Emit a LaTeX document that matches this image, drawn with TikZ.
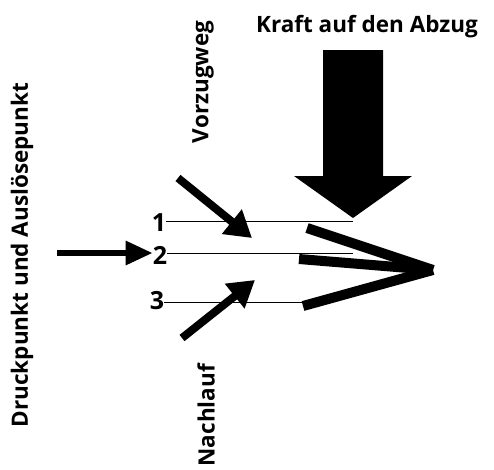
\documentclass[tikz,border=0pt]{standalone}
\usepackage{fontspec}
\setmainfont{Open Sans}
\usetikzlibrary{arrows.meta}
\tikzset{
  lbl/.style={font=\bfseries\fontsize{22.5}{26}\selectfont, inner sep=0pt},
  num/.style={font=\bfseries\fontsize{25}{28}\selectfont, inner sep=0pt},
  thin/.style={line width=0.9pt},
  chev/.style={line width=10pt, line cap=butt},
  fatarrow/.style={line width=8pt, -{Triangle[length=26pt,width=30pt]}},
  leftarrow/.style={line width=6pt, -{Triangle[length=27pt,width=23pt]}},
}
\begin{document}
\begin{tikzpicture}[x=1pt,y=-1pt]
\useasboundingbox (0,0) rectangle (494,469);
% titles
\node[lbl] (kraft) at (367,27) {Kraft auf den Abzug};
\node[lbl, rotate=90] (vorzug) at (203,82) {Vorzugweg};
\node[lbl, rotate=90] (druck) at (22,255) {Druckpunkt und Auslösepunkt};
\node[lbl, rotate=90, anchor=east] (nach) at (206,364) {Nachlauf};
% numbers
\node[num] (n1) at (159,223) {1};
\node[num] (n2) at (160,255) {2};
\node[num] (n3) at (157,301) {3};
% coordinates
\coordinate (e1) at (353,221);
\coordinate (e2) at (353,253);
\coordinate (e3) at (303,302);
\coordinate (tip) at (433,270);
\coordinate (c1) at (307,228);
\coordinate (c2) at (299,259);
\coordinate (c3) at (303,306);
\coordinate (va) at (178,178);
\coordinate (vb) at (252,238);
\coordinate (na) at (182,338);
\coordinate (nb) at (255,280);
\coordinate (la) at (57,253);
% thin lines
\draw[thin] (n1.east |- e1) -- (e1);
\draw[thin] (n2.east |- e2) -- (e2);
\draw[thin] (n3.east |- e3) -- (e3);
% chevron
\draw[chev] (c1) -- (tip);
\draw[chev] (c2) -- (tip);
\draw[chev] (c3) -- (tip);
% diagonal arrows
\draw[fatarrow] (va) -- (vb);
\draw[fatarrow] (na) -- (nb);
% left arrow
\draw[leftarrow] (la) -- (n2.west |- la);
% big arrow
\fill[black] (323,50) -- (383,50) -- (383,176) -- (412,176) -- (353,218) -- (294,176) -- (323,176) -- cycle;
\end{tikzpicture}
\end{document}
